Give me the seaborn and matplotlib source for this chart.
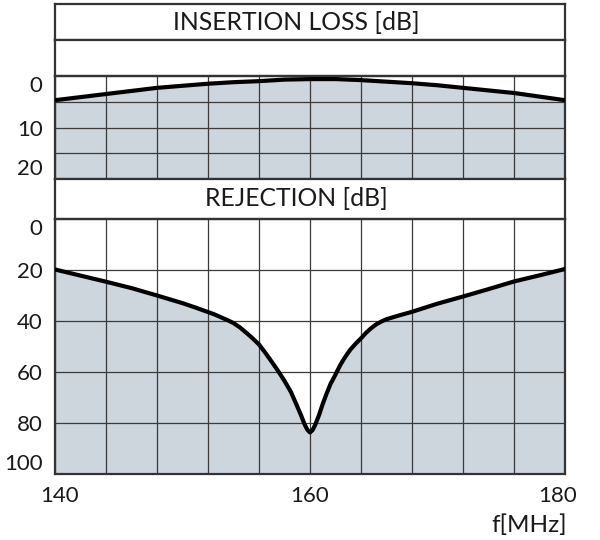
import matplotlib
matplotlib.use("Agg")
from matplotlib import pyplot as plt
import matplotlib.transforms as mtransforms
import pandas as pd
import seaborn as sns

sns.set_style("white")
plt.rcParams["font.family"] = ["Lato", "DejaVu Sans"]

# insertion loss
il_freq = [140, 142, 144, 146, 148, 150, 152, 154, 156, 158, 160,
           162, 164, 166, 168, 170, 172, 174, 176, 178, 180]
il_db = [4.7, 4.1, 3.5, 2.9, 2.3, 1.9, 1.5, 1.2, 1.0, 0.7, 0.6,
         0.6, 0.8, 1.1, 1.4, 1.8, 2.3, 2.8, 3.3, 4.0, 4.7]

# rejection
rej_freq = [140, 142, 144, 146, 148, 150, 151, 152, 152.5, 153, 153.5, 154,
            154.5, 155, 155.5, 156, 156.5, 157, 157.5, 158, 158.5, 159, 159.3,
            159.6, 159.8, 160, 160.2, 160.4, 160.7, 161, 161.3, 161.6, 162,
            162.4, 162.8, 163.2, 163.6, 164, 164.4, 164.8, 165.2, 165.6, 166,
            167, 168, 169, 170, 172, 174, 176, 178, 180]
rej_db = [19.8, 22.2, 24.6, 27.1, 30, 33, 34.7, 36.5, 37.4, 38.5, 39.6, 40.8,
          42.5, 44.6, 46.8, 49.2, 52.5, 56, 59.6, 63.5, 67.8, 73.5, 77,
          80.8, 82.7, 83.7, 82.8, 80.8, 77, 72.5, 68.5, 64.8, 61,
          57, 53.8, 51, 48.8, 46.8, 44.6, 42.8, 41.3, 40.2, 39.3,
          37.8, 36.4, 34.8, 33.2, 30.4, 27.5, 24.5, 22.1, 19.6]

il = pd.DataFrame({"f": il_freq, "db": il_db})
rej = pd.DataFrame({"f": rej_freq, "db": rej_db})

FILL = "#cdd5dd"
EDGE = "#333333"
GRID = "#3a3a3a"
TXT = "#1a1a1a"
FS = 16

fig = plt.figure(figsize=(6, 5.4), dpi=100)
W, H = 600, 540


def box(top, bottom):
    ax = fig.add_axes([55 / W, 1 - bottom / H, 510 / W, (bottom - top) / H])
    ax.set_xlim(140, 180)
    for s in ax.spines.values():
        s.set_color(EDGE)
        s.set_linewidth(1.6)
    ax.tick_params(length=0, labelsize=FS, colors=TXT)
    return ax


def title_box(top, bottom, text):
    ax = box(top, bottom)
    ax.set_xticks([])
    ax.set_yticks([])
    ax.text(0.473, 0.5, text, transform=ax.transAxes, ha="center", va="center",
            fontsize=FS + 1.8, color=TXT)
    return ax


def data_box(top, bottom, df, ymax, major, minor):
    ax = box(top, bottom)
    ax.set_ylim(ymax, 0)
    ax.fill_between(df["f"], df["db"], ymax, color=FILL, lw=0)
    sns.lineplot(data=df, x="f", y="db", ax=ax, color="black", lw=3,
                 zorder=3, solid_joinstyle="round")
    ax.set_xticks([140, 160, 180])
    ax.set_xticks(range(140, 181, 4), minor=True)
    ax.set_yticks(major)
    ax.set_yticks(minor, minor=True)
    ax.set_axisbelow("line")
    ax.grid(True, which="both", color=GRID, lw=0.9)
    ax.tick_params(which="both", length=0)
    ax.tick_params(axis="y", pad=9)
    ax.set_xlabel("")
    ax.set_ylabel("")
    labels = ax.get_yticklabels()
    labels[0].set_va("top")
    labels[-1].set_va("bottom")
    return ax


title_box(4, 40, "INSERTION LOSS [dB]")
blank = box(40, 76)
blank.set_xticks([])
blank.set_yticks([])

ax_il = data_box(76, 179, il, 20, [0, 10, 20], [5, 15])
ax_il.set_xticklabels([])

title_box(179, 219, "REJECTION [dB]")

ax_rej = data_box(219, 474, rej, 100, [0, 20, 40, 60, 80, 100], [])
ax_rej.tick_params(axis="x", pad=9)
xl = ax_rej.get_xticklabels()
xl[0].set_transform(xl[0].get_transform() +
                    mtransforms.ScaledTranslation(5 / 100, 0, fig.dpi_scale_trans))
xl[-1].set_transform(xl[-1].get_transform() +
                     mtransforms.ScaledTranslation(-7 / 100, 0, fig.dpi_scale_trans))
ax_rej.text(1.004, -0.2, "f[MHz]", transform=ax_rej.transAxes, ha="right",
            va="center", fontsize=FS + 1.5, color=TXT)

fig.savefig("out.png", dpi=100)
